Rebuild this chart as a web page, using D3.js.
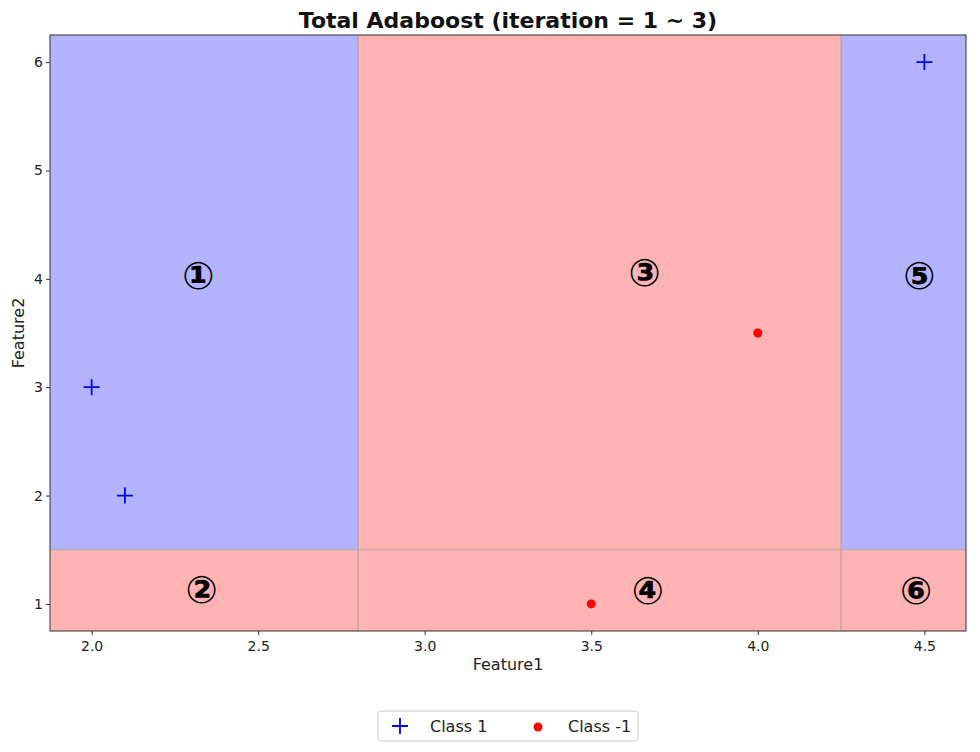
<!DOCTYPE html>
<html><head><meta charset="utf-8">
<script src="https://cdn.jsdelivr.net/npm/d3@7"></script>
<style>body{margin:0;background:#fff;font-family:"DejaVu Sans",sans-serif;}</style>
</head><body><svg id="c" width="980" height="752"></svg>
<script>
const xTicks = [2.0, 2.5, 3.0, 3.5, 4.0, 4.5];
const yTicks = [1, 2, 3, 4, 5, 6];
const xSplits = [2.8, 4.25];
const ySplit = 1.5;
// regions: [x0, x1, y0, y1, class]
const regionX0 = [1.875, 1.875, 2.8, 2.8, 4.25, 4.25];
const regionX1 = [2.8, 2.8, 4.25, 4.25, 4.625, 4.625];
const regionY0 = [1.5, 0.75, 1.5, 0.75, 1.5, 0.75];
const regionY1 = [6.25, 1.5, 6.25, 1.5, 6.25, 1.5];
const regionClass = [1, -1, -1, -1, 1, -1];
const labelText = ["①", "②", "③", "④", "⑤", "⑥"];
const labelX = [2.32, 2.33, 3.66, 3.67, 4.485, 4.475];
const labelY = [4.03, 1.13, 4.05, 1.12, 4.03, 1.12];
const class1X = [2.0, 2.1, 4.5];
const class1Y = [3, 2, 6];
const classNX = [4.0, 3.5];
const classNY = [3.5, 1.0];

const svg = d3.select("#c");
const L = 50, R = 966, T = 35, B = 631;
const x = d3.scaleLinear().domain([1.875, 4.625]).range([L, R]);
const y = d3.scaleLinear().domain([0.75, 6.25]).range([B, T]);

const g = svg.append("g");
regionClass.forEach((c, i) => {
  g.append("rect")
    .attr("x", x(regionX0[i])).attr("y", y(regionY1[i]))
    .attr("width", x(regionX1[i]) - x(regionX0[i]))
    .attr("height", y(regionY0[i]) - y(regionY1[i]))
    .attr("fill", c === 1 ? "#b3b3ff" : "#ffb3b3");
});
xSplits.forEach(s => {
  g.append("line").attr("x1", x(s)).attr("x2", x(s)).attr("y1", T).attr("y2", B)
    .attr("stroke", "#999").attr("stroke-opacity", 0.7).attr("stroke-width", 1.2);
});
g.append("line").attr("x1", L).attr("x2", R).attr("y1", y(ySplit)).attr("y2", y(ySplit))
  .attr("stroke", "#999").attr("stroke-opacity", 0.7).attr("stroke-width", 1.2);

labelText.forEach((t, i) => {
  svg.append("text").attr("x", x(labelX[i])).attr("y", y(labelY[i]))
    .attr("text-anchor", "middle").attr("dominant-baseline", "central")
    .attr("font-size", 38).attr("font-weight", "bold").attr("fill", "#000").text(t);
});

class1X.forEach((v, i) => {
  const cx = x(v), cy = y(class1Y[i]);
  svg.append("path").attr("d", `M${cx-8},${cy}H${cx+8}M${cx},${cy-8}V${cy+8}`)
    .attr("stroke", "#0000ff").attr("stroke-width", 1.8).attr("fill", "none");
});
classNX.forEach((v, i) => {
  svg.append("circle").attr("cx", x(v)).attr("cy", y(classNY[i])).attr("r", 4.5).attr("fill", "#ff0000");
});

svg.append("rect").attr("x", L).attr("y", T).attr("width", R - L).attr("height", B - T)
  .attr("fill", "none").attr("stroke", "#333").attr("stroke-width", 1);

const xa = svg.append("g").attr("transform", `translate(0,${B})`)
  .call(d3.axisBottom(x).tickValues(xTicks).tickFormat(d3.format(".1f")).tickSize(4).tickSizeOuter(0));
const ya = svg.append("g").attr("transform", `translate(${L},0)`)
  .call(d3.axisLeft(y).tickValues(yTicks).tickFormat(d3.format("d")).tickSize(4).tickSizeOuter(0));
[xa, ya].forEach(a => {
  a.select(".domain").remove();
  a.selectAll("text").attr("font-size", 14).attr("font-family", "DejaVu Sans").attr("fill", "#222");
  a.selectAll("line").attr("stroke", "#333");
});
xa.selectAll("text").attr("dy", "0.95em");

svg.append("text").attr("x", (L + R) / 2).attr("y", 670).attr("text-anchor", "middle")
  .attr("font-size", 16).attr("fill", "#222").text("Feature1");
svg.append("text").attr("transform", `translate(24,${(T + B) / 2}) rotate(-90)`)
  .attr("text-anchor", "middle").attr("font-size", 16).attr("fill", "#222").text("Feature2");
svg.append("text").attr("x", (L + R) / 2).attr("y", 28).attr("text-anchor", "middle")
  .attr("font-size", 22).attr("font-weight", "bold").attr("fill", "#111").text("Total Adaboost (iteration = 1 ~ 3)");

const lg = svg.append("g");
lg.append("rect").attr("x", 378).attr("y", 711).attr("width", 260).attr("height", 30).attr("rx", 3)
  .attr("fill", "#fff").attr("stroke", "#ccc");
const lc = 400, ly = 726;
lg.append("path").attr("d", `M${lc-8},${ly}H${lc+8}M${lc},${ly-8}V${ly+8}`)
  .attr("stroke", "#0000ff").attr("stroke-width", 1.8);
lg.append("text").attr("x", 430).attr("y", ly).attr("dominant-baseline", "central")
  .attr("font-size", 16).attr("fill", "#222").text("Class 1");
lg.append("circle").attr("cx", 538).attr("cy", ly + 1).attr("r", 4.5).attr("fill", "#ff0000");
lg.append("text").attr("x", 568).attr("y", ly).attr("dominant-baseline", "central")
  .attr("font-size", 16).attr("fill", "#222").text("Class -1");
</script></body></html>
